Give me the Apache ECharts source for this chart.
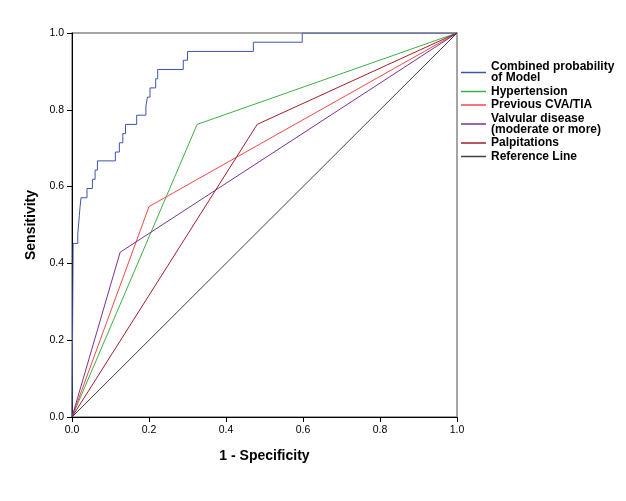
<!DOCTYPE html>
<html>
<head>
<meta charset="utf-8">
<script src="https://cdn.jsdelivr.net/npm/echarts@6/dist/echarts.min.js"></script>
<style>html,body{margin:0;padding:0;background:#fff}#c{width:626px;height:501px}</style>
</head>
<body>
<div id="c"></div>
<script>
// ROC curve of the combined model (1 - specificity, sensitivity)
const combinedFpr = [0, 0.003, 0.015, 0.017, 0.019, 0.021, 0.0234, 0.039, 0.053, 0.060, 0.066, 0.1126, 0.123, 0.132, 0.139, 0.168, 0.192, 0.196, 0.2026, 0.2174, 0.2226, 0.289, 0.300, 0.471, 0.598, 1];
const combinedTpr = [0, 0.452, 0.476, 0.500, 0.524, 0.548, 0.571, 0.595, 0.619, 0.643, 0.667, 0.690, 0.714, 0.738, 0.762, 0.786, 0.810, 0.833, 0.857, 0.881, 0.905, 0.929, 0.952, 0.976, 1, 1];
const hypertensionFpr = [0, 0.325, 1];
const hypertensionTpr = [0, 0.762, 1];
const cvaFpr = [0, 0.200, 1];
const cvaTpr = [0, 0.548, 1];
const valvularFpr = [0, 0.125, 1];
const valvularTpr = [0, 0.429, 1];
const palpitationsFpr = [0, 0.481, 1];
const palpitationsTpr = [0, 0.762, 1];
const referenceFpr = [0, 1];
const referenceTpr = [0, 1];
const seriesNames = ['Combined probability\nof Model', 'Hypertension', 'Previous CVA/TIA', 'Valvular disease\n(moderate or more)', 'Palpitations', 'Reference Line'];
const seriesColors = ['#3d55a8', '#3fae44', '#f04a4a', '#7b3391', '#a0202a', '#404040'];

function pts(xs, ys) { return xs.map((x, i) => [x, ys[i]]); }
const dataSets = [
  pts(combinedFpr, combinedTpr),
  pts(hypertensionFpr, hypertensionTpr),
  pts(cvaFpr, cvaTpr),
  pts(valvularFpr, valvularTpr),
  pts(palpitationsFpr, palpitationsTpr),
  pts(referenceFpr, referenceTpr)
];

const chart = echarts.init(document.getElementById('c'), null, { renderer: 'canvas' });
const axisCommon = {
  type: 'value', min: 0, max: 1, interval: 0.2,
  nameLocation: 'middle',
  nameTextStyle: { fontFamily: 'Liberation Sans', fontWeight: 'bold', fontSize: 14, color: '#000' },
  axisLine: { show: true, lineStyle: { color: '#000', width: 1 } },
  axisTick: { show: true, inside: false, length: 5, lineStyle: { color: '#000' } },
  axisLabel: { fontFamily: 'Liberation Sans', fontSize: 10.5, color: '#000', margin: 8, formatter: v => v.toFixed(1) },
  splitLine: { show: false }
};
chart.setOption({
  animation: false,
  backgroundColor: '#fff',
  grid: { left: 72, right: 169, top: 33, bottom: 84, show: true, borderColor: '#888', borderWidth: 1.5, backgroundColor: 'transparent' },
  xAxis: Object.assign({}, axisCommon, { name: '1 - Specificity', nameGap: 32 }),
  yAxis: Object.assign({}, axisCommon, { name: 'Sensitivity', nameGap: 28 }),
  legend: {
    orient: 'vertical', left: 461, top: 61, padding: 0,
    itemWidth: 25, itemHeight: 1.5, itemGap: 1.5, icon: 'rect',
    data: seriesNames,
    textStyle: { fontFamily: 'Liberation Sans', fontWeight: 'bold', fontSize: 12, lineHeight: 11, color: '#000' }
  },
  series: seriesNames.map((name, i) => ({
    name: name, type: 'line', data: dataSets[i],
    step: i === 0 ? 'end' : false,
    showSymbol: false, symbol: 'none',
    lineStyle: { color: seriesColors[i], width: 1 },
    itemStyle: { color: seriesColors[i] },
    z: 3 + i
  }))
});
</script>
</body>
</html>
